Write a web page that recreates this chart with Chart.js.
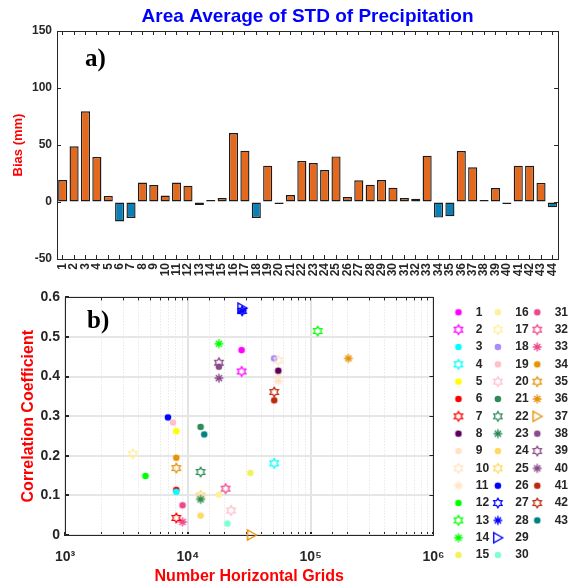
<!DOCTYPE html>
<html><head><meta charset="utf-8">
<script src="https://cdn.jsdelivr.net/npm/chart.js@4.4.1/dist/chart.umd.min.js"></script>
<style>
html,body{margin:0;padding:0;background:#fff;overflow:hidden;width:575px;height:584px;}
#wrap{position:relative;width:575px;height:584px;overflow:hidden;}
canvas{position:absolute;left:0;}
#c1{top:0;}
#c2{top:280px;}
.lab{position:absolute;font-family:'Liberation Serif','Times New Roman',serif;font-weight:bold;font-size:25px;color:#000;line-height:1;}
</style></head><body>
<div id="wrap">
<canvas id="c1" width="575" height="290"></canvas>
<canvas id="c2" width="578" height="304"></canvas>
<div class="lab" style="left:85px;top:45px">a)</div>
<div class="lab" style="left:87px;top:307px">b)</div>
</div>
<script>
// ---- panel a) data ----
const barLabels = ['1','2','3','4','5','6','7','8','9','10','11','12','13','14','15','16','17','18','19','20','21','22','23','24','25','26','27','28','29','30','31','32','33','34','35','36','37','38','39','40','41','42','43','44'];
const biasValues = [19.3, 48.8, 79.5, 39.5, 5.3, -17, -14, 17, 14.9, 5.6, 17, 14.3, -2.6, 0.9, 3.5, 60.5, 45, -14, 31.9, -1, 6.1, 36, 34.2, 28, 40, 4.4, 19, 15.2, 19.3, 12.6, 3.5, 2.9, 40.6, -13.7, -12.6, 44.7, 30.4, 0.6, 12.3, -0.6, 31.9, 31.9, 16.7, -4.7];
const biasTicks = [-50, 0, 50, 100, 150];

// ---- panel b) data ----
const modelLabels = ['1','2','3','4','5','6','7','8','9','10','11','12','13','14','15','16','17','18','19','20','21','22','23','24','25','26','27','28','29','30','31','32','33','34','35','36','37','38','39','40','41','42','43'];
const horizontalGrids = [27400, 27400, 8050, 50500, 8050, 8050, 8050, 54500, 54500, 54500, 54500, 4520, 114000, 17900, 32300, 17900, 3570, 50400, 7570, 22500, 12700, 12700, 12700, 12700, 12700, 6890, 27700, 27700, 27700, 21000, 9060, 20300, 9060, 8050, 8050, 203000, 33100, 17900, 17900, 17900, 50500, 50500, 13600];
const correlation = [0.467, 0.413, 0.109, 0.181, 0.262, 0.114, 0.043, 0.415, 0.409, 0.441, 0.389, 0.149, 0.515, 0.483, 0.157, 0.102, 0.205, 0.446, 0.284, 0.062, 0.273, 0.159, 0.090, 0.049, 0.100, 0.297, 0.566, 0.566, 0.573, 0.029, 0.075, 0.117, 0.033, 0.195, 0.169, 0.446, 0.000, 0.425, 0.435, 0.396, 0.340, 0.361, 0.254];
const markerShapes = ['o','h','o','h','o','o','h','o','o','h','*','o','h','*','o','o','h','o','o','h','o','h','*','o','h','o','h','*','>','o','o','h','*','o','h','*','>','o','h','*','o','h','o'];
const markerColors = ['#FF00FF','#FF00FF','#00FFFF','#00FFFF','#FFFF00','#FF0000','#FF0000','#5E005E','#FFE4C4','#FFE4C4','#FFE4C4','#00FF00','#00FF00','#00FF00','#F2F25C','#FFF09A','#FFF09A','#A98BFF','#FFC0CB','#FFC0CB','#2E8B57','#2E8B57','#2E8B57','#FFD966','#FFD966','#0000FF','#0000FF','#0000FF','#0000FF','#7FFFD4','#F0468C','#F0468C','#F0468C','#E8920A','#E8920A','#E8920A','#E8920A','#8B4A8B','#8B4A8B','#8B4A8B','#C0280E','#C0280E','#008080'];
const corrTicks = [0, 0.1, 0.2, 0.3, 0.4, 0.5, 0.6];

// ---- styles ----
const AX = '#262626';
const ORANGE = '#E3691E';
const BLUE = '#0B80B6';
Chart.defaults.font.family = "'Liberation Sans', Arial, sans-serif";
Chart.defaults.font.weight = 'bold';
Chart.defaults.color = AX;

function makeMarker(shape, color, dx) {
  const W = 24, H = 16;
  const c = document.createElement('canvas');
  c.width = W; c.height = H;
  const g = c.getContext('2d');
  const cx = W / 2 + (dx || 0), cy = H / 2;
  g.fillStyle = color; g.strokeStyle = color;
  if (shape === 'o') {
    g.beginPath(); g.arc(cx, cy, 3.3, 0, Math.PI * 2); g.fill();
  } else if (shape === 'h') {
    const R = 4.9, r = R / Math.sqrt(3);
    g.lineWidth = 1.2; g.beginPath();
    for (let k = 0; k < 12; k++) {
      const a = -Math.PI / 2 + k * Math.PI / 6;
      const rr = (k % 2 === 0) ? R : r;
      const px = cx + rr * Math.cos(a), py = cy + rr * Math.sin(a);
      if (k === 0) g.moveTo(px, py); else g.lineTo(px, py);
    }
    g.closePath(); g.stroke();
  } else if (shape === '*') {
    const R = 4.4;
    g.lineWidth = 1.4; g.beginPath();
    for (let k = 0; k < 4; k++) {
      const a = k * Math.PI / 4;
      g.moveTo(cx - R * Math.cos(a), cy - R * Math.sin(a));
      g.lineTo(cx + R * Math.cos(a), cy + R * Math.sin(a));
    }
    g.stroke();
  } else if (shape === '>') {
    g.lineWidth = 1.4; g.beginPath();
    g.moveTo(cx + 4.8, cy); g.lineTo(cx - 4.2, cy - 5); g.lineTo(cx - 4.2, cy + 5); g.closePath(); g.stroke();
  }
  return c;
}

// ---- chart a) ----
new Chart(document.getElementById('c1'), {
  type: 'bar',
  data: {
    labels: barLabels,
    datasets: [{
      data: biasValues,
      backgroundColor: c => (c.raw < 0 ? BLUE : ORANGE),
      borderColor: '#1c1c1c',
      borderWidth: 1.4,
      borderSkipped: false,
      categoryPercentage: 1,
      barPercentage: 0.8,
      minBarLength: 2
    }]
  },
  options: {
    responsive: false, animation: false, devicePixelRatio: 1,
    layout: { padding: { left: 0, right: 1, top: 0, bottom: 0 } },
    plugins: {
      legend: { display: false }, tooltip: { enabled: false },
      title: { display: true, text: 'Area Average of STD of Precipitation', color: '#0000FF', fullSize: false,
        font: { size: 19, weight: 'bold', lineHeight: 1.1 }, padding: { top: 6, bottom: 4.1 } }
    },
    scales: {
      x: { type: 'category', offset: true,
        grid: { display: true, drawOnChartArea: false, offset: false, tickLength: -4, color: AX, tickColor: AX },
        border: { color: AX, width: 1 },
        ticks: { autoSkip: false, maxRotation: 90, minRotation: 90, padding: 8, font: { size: 12, weight: 'bold' }, color: AX },
        afterFit: s => { s.height = 31; } },
      x2: { type: 'category', position: 'top', offset: true,
        grid: { display: true, drawOnChartArea: false, offset: false, tickLength: -4, color: AX, tickColor: AX },
        border: { color: AX, width: 1 }, ticks: { display: false },
        afterFit: s => { s.height = 0; } },
      y: { min: -50, max: 150,
        afterBuildTicks: s => { s.ticks = biasTicks.map(v => ({ value: v })); },
        ticks: { padding: 9, font: { size: 12, weight: 'bold' }, color: AX },
        grid: { drawOnChartArea: false, tickLength: -4, color: AX, tickColor: AX },
        border: { color: AX, width: 1 },
        title: { display: true, text: 'Bias (mm)', color: '#FF0000', font: { size: 13, weight: 'bold' }, padding: { top: 11, bottom: 0 } },
        afterFit: s => { s.width = 57; } },
      y2: { position: 'right', min: -50, max: 150,
        afterBuildTicks: s => { s.ticks = biasTicks.map(v => ({ value: v })); },
        ticks: { display: false },
        grid: { drawOnChartArea: false, tickLength: -4, color: AX, tickColor: AX },
        border: { color: AX, width: 1 },
        afterFit: s => { s.width = 0; } }
    }
  }
});

// ---- chart b) ----
const isPow10 = v => { const l = Math.log10(v); return Math.abs(l - Math.round(l)) < 1e-6; };
const SUP = { '3': '\u00B3', '4': '\u2074', '5': '\u2075', '6': '\u2076' };
const LEG_DX = -4.04;
const scatterSets = modelLabels.map((m, i) => ({
  label: m,
  data: [{ x: horizontalGrids[i], y: correlation[i] }],
  pointStyle: makeMarker(markerShapes[i], markerColors[i], 0),
  legendStyle: makeMarker(markerShapes[i], markerColors[i], LEG_DX),
  pointRadius: 5,
  backgroundColor: markerColors[i],
  borderColor: markerColors[i],
  clip: false
}));

new Chart(document.getElementById('c2'), {
  type: 'scatter',
  data: { datasets: scatterSets },
  options: {
    responsive: false, animation: false, devicePixelRatio: 1,
    layout: { padding: { left: 0, right: 0, top: 16, bottom: 2 } },
    plugins: {
      tooltip: { enabled: false },
      legend: {
        position: 'right', align: 'start', maxWidth: 200,
        title: { display: true, text: '', font: { size: 4, lineHeight: 1.24 }, padding: 0 },
        labels: {
          usePointStyle: true, pointStyleWidth: 14.72, boxHeight: 12, padding: 5.34, textAlign: 'left',
          font: { size: 12, weight: 'bold' }, color: '#000',
          generateLabels: chart => chart.data.datasets.map((d, i) => ({
            text: d.label, pointStyle: d.legendStyle, fillStyle: d.backgroundColor,
            strokeStyle: d.borderColor, lineWidth: 0, hidden: false, datasetIndex: i, textAlign: 'left'
          }))
        }
      }
    },
    scales: {
      x: { type: 'logarithmic', min: 1e3, max: 1e6,
        ticks: { autoSkip: false, maxRotation: 0, minRotation: 0, padding: 17, font: { size: 14, weight: 'bold' }, color: AX,
          callback: v => isPow10(v) ? '10' + SUP[String(Math.round(Math.log10(v)))] : '' },
        grid: { color: c => (c.tick && isPow10(c.tick.value)) ? '#e3e3e3' : '#dedede',
          lineWidth: c => (c.tick && isPow10(c.tick.value)) ? 2 : 1, tickColor: AX, tickLength: -3 },
        border: { color: AX, width: 1, dash: c => (c.tick && !isPow10(c.tick.value)) ? [1, 2] : [] },
        title: { display: true, text: 'Number Horizontal Grids', color: '#FF0000', font: { size: 16, weight: 'bold' }, padding: { top: 0, bottom: -4 } },
        afterFit: s => { s.height = 47; } },
      x2: { type: 'logarithmic', position: 'top', min: 1e3, max: 1e6,
        ticks: { display: false },
        grid: { drawOnChartArea: false, tickLength: -3, color: AX, tickColor: AX },
        border: { color: AX, width: 1 },
        afterFit: s => { s.height = 0; } },
      y: { min: 0, max: 0.6,
        afterBuildTicks: s => { s.ticks = corrTicks.map(v => ({ value: v })); },
        ticks: { padding: 9, font: { size: 14, weight: 'bold' }, color: AX },
        grid: { color: '#e6e6e6', lineWidth: 2, tickColor: AX, tickLength: -4 },
        border: { color: AX, width: 1 },
        title: { display: true, text: 'Correlation Coefficient', color: '#FF0000', font: { size: 16, weight: 'bold' }, padding: { top: 19.4, bottom: 0 } },
        afterFit: s => { s.width = 65; } },
      y2: { position: 'right', min: 0, max: 0.6,
        afterBuildTicks: s => { s.ticks = corrTicks.map(v => ({ value: v })); },
        ticks: { display: false },
        grid: { drawOnChartArea: false, tickLength: -4, color: AX, tickColor: AX },
        border: { color: AX, width: 1 },
        afterFit: s => { s.width = 16.3; } }
    }
  }
});
</script>
</body></html>
